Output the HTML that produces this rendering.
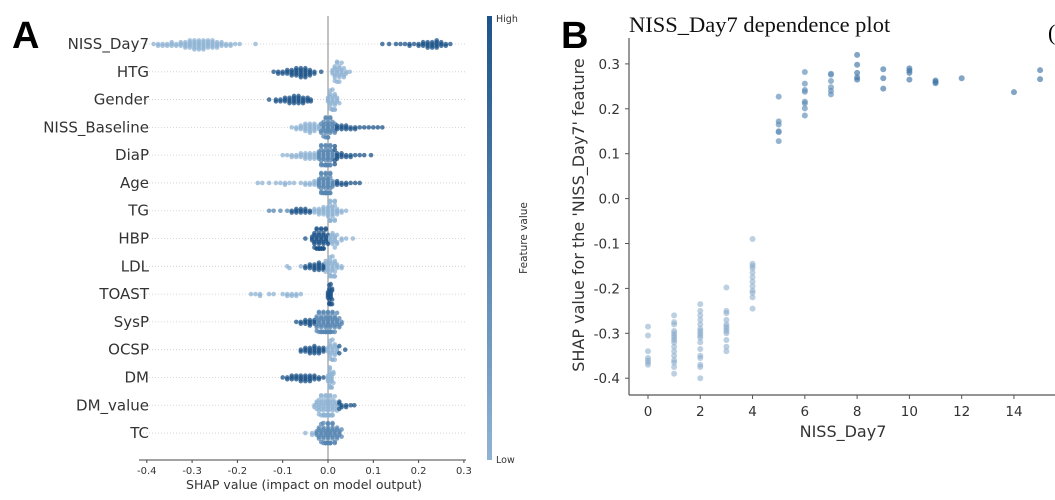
<!DOCTYPE html>
<html><head><meta charset="utf-8"><style>
body{margin:0;background:#fff;width:1055px;height:500px;overflow:hidden}
svg{display:block}
text{font-family:"DejaVu Sans","Liberation Sans",sans-serif;fill:#333}
</style></head><body>
<svg id="c" width="1055" height="500">
<text x="12" y="48" style="font-family:'Liberation Sans',sans-serif;font-weight:bold;font-size:38px;fill:#000">A</text>
<text x="561" y="48" style="font-family:'Liberation Sans',sans-serif;font-weight:bold;font-size:38px;fill:#000">B</text>
<text x="1048" y="40" style="font-family:'Liberation Serif',serif;font-size:22px;fill:#000">(</text>
<g id="A"></g>
<g id="B"></g>
</svg>
<script>
const features=["NISS_Day7","HTG","Gender","NISS_Baseline","DiaP","Age","TG","HBP","LDL","TOAST","SysP","OCSP","DM","DM_value","TC"];
const shapLo={
NISS_Day7:[[-0.385,1],[-0.375,2],[-0.365,2],[-0.355,2],[-0.345,3],[-0.335,2],[-0.325,3],[-0.315,4],[-0.305,5],[-0.295,6],[-0.285,6],[-0.275,6],[-0.265,5],[-0.255,5],[-0.245,4],[-0.235,3],[-0.225,2],[-0.215,2],[-0.205,1],[-0.195,1],[-0.16,1]],
HTG:[[0.01,3],[0.015,5],[0.02,6],[0.025,5],[0.03,4],[0.035,3],[0.04,2],[0.048,1]],
Gender:[[0.0,3],[0.005,6],[0.01,7],[0.015,6],[0.02,3],[0.025,1]],
NISS_Baseline:[[-0.08,1],[-0.07,2],[-0.06,3],[-0.05,5],[-0.04,6],[-0.03,5],[-0.02,3]],
DiaP:[[-0.1,1],[-0.09,1],[-0.08,2],[-0.07,2],[-0.06,3],[-0.05,4],[-0.04,4],[-0.03,4]],
Age:[[-0.155,1],[-0.145,1],[-0.13,1],[-0.115,1],[-0.105,1],[-0.095,2],[-0.085,1],[-0.075,1],[-0.06,1],[-0.05,2],[-0.04,2],[-0.03,3]],
TG:[[-0.03,3],[-0.02,4],[-0.01,5],[0,6],[0.005,7],[0.01,6],[0.015,5],[0.02,4],[0.03,2],[0.04,1]],
HBP:[[0.005,3],[0.01,4],[0.015,4],[0.02,3],[0.03,2],[0.04,1],[0.055,1]],
LDL:[[-0.09,1],[-0.085,1],[-0.06,1],[-0.005,3],[0,4],[0.005,6],[0.01,6],[0.015,5],[0.02,3],[0.03,2]],
TOAST:[[-0.17,1],[-0.16,1],[-0.15,2],[-0.13,1],[-0.12,1],[-0.1,1],[-0.09,2],[-0.08,2],[-0.07,2],[-0.06,1]],
SysP:[],
OCSP:[[0,3],[0.005,6],[0.01,6],[0.015,5],[0.02,3]],
DM:[[0,4],[0.004,7],[0.008,6],[0.012,3]],
DM_value:[[-0.03,2],[-0.025,3],[-0.02,5],[-0.015,6],[-0.01,7],[-0.005,8],[0,8],[0.005,7],[0.01,6],[0.015,4],[0.02,3]],
TC:[[-0.05,1],[-0.035,2]]};
const shapMid={
NISS_Baseline:[[-0.015,3],[-0.01,5],[-0.005,6],[0,6],[0.005,5],[0.01,4],[0.015,3]],
DiaP:[[-0.02,5],[-0.015,6],[-0.01,6],[-0.005,7],[0,7],[0.005,6],[0.01,5]],
Age:[[-0.02,5],[-0.015,6],[-0.01,7],[-0.005,8],[0,7],[0.005,6],[0.01,4]],
TG:[[-0.13,1],[-0.12,1],[-0.105,1],[-0.09,1]],
SysP:[[-0.025,5],[-0.02,6],[-0.015,6],[-0.01,7],[-0.005,7],[0,8],[0.005,7],[0.01,6],[0.015,5],[0.02,4],[0.025,3],[0.03,2]],
TC:[[-0.025,3],[-0.02,4],[-0.015,5],[-0.01,6],[-0.005,7],[0,8],[0.005,7],[0.01,6],[0.015,5],[0.02,4],[0.025,3],[0.03,2]]};
const shapHi={
NISS_Day7:[[0.12,1],[0.135,1],[0.15,1],[0.16,1],[0.17,1],[0.18,2],[0.19,1],[0.2,2],[0.21,3],[0.22,4],[0.23,4],[0.24,5],[0.25,3],[0.26,2],[0.27,1]],
HTG:[[-0.12,1],[-0.11,2],[-0.1,2],[-0.09,3],[-0.08,4],[-0.07,5],[-0.06,6],[-0.05,6],[-0.04,4],[-0.03,2],[-0.015,1]],
Gender:[[-0.13,1],[-0.115,2],[-0.105,2],[-0.095,3],[-0.085,4],[-0.075,5],[-0.065,5],[-0.055,4],[-0.045,3],[-0.038,2]],
NISS_Baseline:[[0.02,3],[0.03,3],[0.04,3],[0.05,2],[0.06,2],[0.07,1],[0.08,1],[0.09,1],[0.1,1],[0.11,1],[0.12,1]],
DiaP:[[0.015,4],[0.02,4],[0.03,3],[0.04,2],[0.05,2],[0.06,1],[0.07,1],[0.08,1],[0.095,1]],
Age:[[0.02,3],[0.03,2],[0.04,2],[0.05,1],[0.06,1],[0.07,1]],
TG:[[-0.08,2],[-0.07,3],[-0.06,3],[-0.05,3],[-0.04,2]],
HBP:[[-0.05,1],[-0.035,3],[-0.03,5],[-0.025,7],[-0.02,8],[-0.015,8],[-0.01,7],[-0.005,5],[0,3]],
LDL:[[-0.05,2],[-0.04,3],[-0.03,4],[-0.02,5],[-0.01,4]],
TOAST:[[0,4],[0.003,6],[0.006,6],[0.009,4]],
SysP:[[-0.07,1],[-0.06,2],[-0.05,3],[-0.04,4],[-0.03,3]],
OCSP:[[-0.06,2],[-0.05,3],[-0.04,4],[-0.03,5],[-0.02,4],[-0.01,3],[0.025,2],[0.038,1]],
DM:[[-0.1,1],[-0.09,2],[-0.08,3],[-0.07,3],[-0.06,4],[-0.05,4],[-0.04,4],[-0.03,3],[-0.02,2],[-0.01,1]],
DM_value:[[0.025,3],[0.03,2],[0.04,2],[0.05,1],[0.058,1]]};
const xTicksA=[-0.4,-0.3,-0.2,-0.1,0.0,0.1,0.2,0.3];

const niss=[0,0,0,0,0,0,0, 1,1,1,1,1,1,1,1,1,1,1,1,1,1,1,1, 2,2,2,2,2,2,2,2,2,2,2,2,2,2,2,2,2, 3,3,3,3,3,3,3,3,3,3,3,3, 4,4,4,4,4,4,4,4,4,4,4,4, 5,5,5,5,5,5, 6,6,6,6,6,6,6,6, 7,7,7,7,7,7, 8,8,8,8,8, 9,9,9, 10,10,10,10, 11,11,11, 12, 14, 15,15];
const shapB=[-0.285,-0.305,-0.34,-0.355,-0.36,-0.365,-0.37,
-0.26,-0.275,-0.28,-0.295,-0.30,-0.305,-0.31,-0.315,-0.32,-0.33,-0.34,-0.35,-0.36,-0.365,-0.375,-0.39,
-0.235,-0.25,-0.26,-0.27,-0.28,-0.29,-0.295,-0.30,-0.305,-0.31,-0.32,-0.335,-0.35,-0.355,-0.37,-0.375,-0.40,
-0.198,-0.25,-0.255,-0.27,-0.28,-0.285,-0.29,-0.295,-0.30,-0.315,-0.33,-0.34,
-0.09,-0.145,-0.15,-0.155,-0.165,-0.175,-0.185,-0.195,-0.205,-0.21,-0.22,-0.245,
0.227,0.172,0.165,0.15,0.148,0.128,
0.282,0.256,0.242,0.238,0.216,0.212,0.201,0.185,
0.278,0.276,0.262,0.248,0.24,0.232,
0.32,0.298,0.28,0.27,0.265,
0.288,0.268,0.245,
0.29,0.285,0.28,0.265,
0.263,0.26,0.257,
0.268,0.237,0.286,0.266];
const xTicksB=[0,2,4,6,8,10,12,14];
const yTicksB=[-0.4,-0.3,-0.2,-0.1,0.0,0.1,0.2,0.3];

const NS="http://www.w3.org/2000/svg";
function mk(p,tag,at,txt){const e=document.createElementNS(NS,tag);for(const k in at)e.setAttribute(k,at[k]);if(txt!==undefined)e.textContent=txt;p.appendChild(e);return e;}

// ----- Panel A -----
const A=document.getElementById('A');
const xA=v=>328+v*453;
const rowY=i=>44+i*27.79;
const COL={lo:'#8fb3d4',mid:'#5686b2',hi:'#1c5388'};
features.forEach((f,i)=>{
  const y=rowY(i);
  const g=mk(A,'line',{x1:140,x2:466,y1:y,y2:y,stroke:'#ccc','stroke-width':0.8,'stroke-dasharray':'1,2'});
  
  
  const t=mk(A,'text',{x:149,y:y+5,'text-anchor':'end','font-size':15},f);
  
  
});
const zl=mk(A,'line',{x1:xA(0),x2:xA(0),y1:16,y2:460,stroke:'#999','stroke-width':1.2});


features.forEach((f,i)=>{
  const pts=[];
  [['lo',shapLo],['mid',shapMid],['hi',shapHi]].forEach(([lv,src])=>{
    (src[f]||[]).forEach(([v,n])=>{for(let k=0;k<n;k++)pts.push({x:xA(v),c:COL[lv]});});
  });
  pts.sort((a,b)=>a.x-b.x);
  const placed=[];
  pts.forEach(p=>{
    let off=0;
    for(let k=0;k<40;k++){
      const cand=(k%2?1:-1)*Math.ceil(k/2)*1.8;
      if(!placed.some(q=>Math.abs(q.x-p.x)<2.6&&Math.abs(q.o-cand)<1.8)){off=cand;break;}
    }
    off=Math.max(-10,Math.min(10,off));
    p.o=off;placed.push(p);
  });
  placed.forEach(p=>{
    const c=mk(A,'circle',{cx:p.x,cy:rowY(i)+p.o,r:2.3,fill:p.c,'fill-opacity':0.75});
    
    
  });
});
const axA=mk(A,'line',{x1:139,x2:466,y1:460,y2:460,stroke:'#444','stroke-width':1});


xTicksA.forEach(v=>{
  mk(A,'line',{x1:xA(v),x2:xA(v),y1:460,y2:463,stroke:'#444'});
  const t=mk(A,'text',{x:xA(v),y:474,'text-anchor':'middle','font-size':10},v.toFixed(1));
  
  
});
const xlA=mk(A,'text',{x:304,y:489,'text-anchor':'middle','font-size':12.5},'SHAP value (impact on model output)');


const defs=mk(A,'defs',{});
const lg=mk(defs,'linearGradient',{id:'cb',x1:0,y1:0,x2:0,y2:1});
mk(lg,'stop',{offset:0,'stop-color':'#1c5388'});
mk(lg,'stop',{offset:1,'stop-color':'#8fb3d4'});
const cb=mk(A,'rect',{x:487,y:16,width:5,height:444,fill:'url(#cb)'});


const hi=mk(A,'text',{x:496,y:22,'font-size':9.5},'High');


const lo=mk(A,'text',{x:496,y:463,'font-size':9.5},'Low');


const fv=mk(A,'text',{x:0,y:0,'font-size':10.5,'text-anchor':'middle',transform:'translate(527,238) rotate(-90)'},'Feature value');



// ----- Panel B -----
const B=document.getElementById('B');
const xB=v=>648+v*26.14;
const yB=v=>198.6-v*449;
const tt=mk(B,'text',{x:629,y:32,'font-size':22.5,style:'font-family:"Liberation Serif",serif;fill:#111'},'NISS_Day7 dependence plot');


niss.forEach((n,i)=>{
  const c=n<=4?'#87aacb':(n<=7?'#5c8cb7':'#3f74a6');
  const p=mk(B,'circle',{cx:xB(n),cy:yB(shapB[i]),r:3,fill:c,'fill-opacity':n<=4?0.55:0.65});
  
  
});
const ax1=mk(B,'line',{x1:629,x2:629,y1:38,y2:395,stroke:'#555','stroke-width':1.2});


const ax2=mk(B,'line',{x1:629,x2:1055,y1:395,y2:395,stroke:'#555','stroke-width':1.2});


yTicksB.forEach(v=>{
  mk(B,'line',{x1:625,x2:629,y1:yB(v),y2:yB(v),stroke:'#555'});
  const t=mk(B,'text',{x:620,y:yB(v)+5,'text-anchor':'end','font-size':13.5},v.toFixed(1));
  
  
});
xTicksB.forEach(v=>{
  mk(B,'line',{x1:xB(v),x2:xB(v),y1:395,y2:399,stroke:'#555'});
  const t=mk(B,'text',{x:xB(v),y:416,'text-anchor':'middle','font-size':13.5},String(v));
  
  
});
const xlB=mk(B,'text',{x:843,y:437,'text-anchor':'middle','font-size':16},'NISS_Day7');


const ylB=mk(B,'text',{x:0,y:0,'text-anchor':'middle','font-size':16,transform:'translate(584,215) rotate(-90)'},"SHAP value for the 'NISS_Day7' feature");


</script>
</body></html>
